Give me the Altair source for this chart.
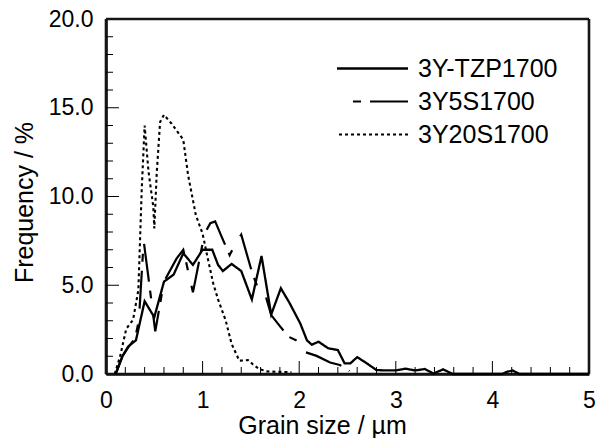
import altair as alt
import pandas as pd

# Grain size distributions (grain size in µm, frequency in %)
tzp_x = [0.10, 0.17, 0.23, 0.31, 0.40, 0.50, 0.60, 0.70, 0.80, 0.90, 1.00, 1.10,
         1.16, 1.21, 1.30, 1.40, 1.51, 1.61, 1.71, 1.81, 1.90, 2.01, 2.08, 2.13,
         2.20, 2.30, 2.40, 2.47, 2.53, 2.60, 2.70, 2.80, 2.90, 3.00, 3.10, 3.20,
         3.30, 3.39, 3.49, 3.59, 3.70, 3.80, 3.90, 4.00, 4.10, 4.15, 4.21, 4.28,
         4.40, 4.60, 4.80, 5.00]
tzp_y = [0.0, 1.0, 1.55, 1.9, 4.1, 3.2, 5.2, 5.6, 6.8, 6.15, 7.0, 7.0,
         6.15, 5.8, 6.2, 5.8, 4.2, 6.65, 3.35, 4.83, 4.0, 2.86, 1.9, 1.65,
         1.82, 1.45, 1.35, 0.6, 0.6, 0.95, 0.6, 0.22, 0.2, 0.2, 0.3, 0.2,
         0.28, 0.03, 0.26, 0.0, 0.0, 0.0, 0.0, 0.0, 0.0, 0.12, 0.2, 0.0,
         0.0, 0.0, 0.0, 0.0]

s5_x = [0.10, 0.17, 0.23, 0.30, 0.34, 0.39, 0.44, 0.51, 0.60, 0.73, 0.80, 0.90,
        1.02, 1.08, 1.13, 1.20, 1.28, 1.35, 1.40, 1.51, 1.58, 1.65, 1.71, 1.80,
        1.89, 2.03, 2.07, 2.18, 2.32, 2.42, 2.52]
s5_y = [0.0, 1.0, 1.5, 2.0, 3.0, 7.5, 5.4, 2.4, 5.2, 6.5, 7.0, 4.6,
        7.9, 8.5, 8.6, 7.7, 6.7, 7.45, 7.85, 5.76, 4.73, 4.45, 3.32, 2.7,
        2.1, 1.73, 1.22, 1.02, 0.65, 0.51, 0.17]

s20_x = [0.09, 0.145, 0.21, 0.28, 0.335, 0.37, 0.40, 0.44, 0.49, 0.50, 0.525,
         0.56, 0.60, 0.68, 0.80, 0.85, 0.93, 1.00, 1.05, 1.11, 1.16, 1.24, 1.30,
         1.38, 1.47, 1.52, 1.58, 1.66, 1.80, 1.92]
s20_y = [0.0, 0.97, 2.55, 3.05, 4.73, 10.4, 14.0, 11.4, 9.4, 8.2, 11.3,
         14.2, 14.6, 14.1, 13.2, 11.2, 8.95, 7.9, 6.6, 5.1, 4.2, 3.0, 1.7,
         0.75, 0.78, 0.55, 0.3, 0.15, 0.12, 0.1]

series = ["3Y-TZP1700", "3Y5S1700", "3Y20S1700"]

# Axis ticks (drawn inward)
x_minor = [0.2, 0.4, 0.6, 0.8, 1.2, 1.4, 1.6, 1.8, 2.2, 2.4, 2.6, 2.8,
           3.2, 3.4, 3.6, 3.8, 4.2, 4.4, 4.6, 4.8]
x_major = [1, 2, 3, 4]
y_minor = [1, 2, 3, 4, 6, 7, 8, 9, 11, 12, 13, 14, 16, 17, 18, 19]
y_major = [5, 10, 15]
x_labels = [0, 1, 2, 3, 4, 5]
y_labels = [0, 5, 10, 15, 20]

# Frame edges in data units
x_edges = [0, 5]
y_edges = [0, 20]

W, H = 483, 355
FONT = "Liberation Sans"
INK = "#151515"

frames = []
for name, xs, ys in [(series[0], tzp_x, tzp_y), (series[1], s5_x, s5_y), (series[2], s20_x, s20_y)]:
    frames.append(pd.DataFrame({"size": xs, "freq": ys, "series": name, "order": range(len(xs))}))
df = pd.concat(frames, ignore_index=True)

xscale = alt.Scale(domain=[0, 5], nice=False, zero=False)
yscale = alt.Scale(domain=[0, 20], nice=False, zero=False)

legend_kw = dict(
    title=None, orient="none", legendX=254, legendY=37,
    symbolType="M7.1,0H-7.1", symbolSize=100,
    symbolStrokeColor="black", symbolFillColor="transparent",
    labelFontSize=25, labelFont=FONT, labelColor="black",
    labelOffset=33, rowPadding=7,
)

lines = alt.Chart(df).mark_line(color="black").encode(
    x=alt.X("size:Q", scale=xscale,
            axis=alt.Axis(values=x_labels, format="d", ticks=False, grid=False,
                          domain=True, domainColor=INK, domainWidth=2.6,
                          labelFlush=False,
                          labelFontSize=23, labelFont=FONT, labelColor="black", labelPadding=15,
                          title="Grain size / µm", titleFontSize=25, titleFont=FONT,
                          titleFontWeight="normal", titleColor="black",
                          titleX=216, titleY=59, titleBaseline="alphabetic")),
    y=alt.Y("freq:Q", scale=yscale,
            axis=alt.Axis(values=y_labels, format=".1f", ticks=False, grid=False,
                          domain=True, domainColor=INK, domainWidth=2.6,
                          labelFlush=False,
                          labelFontSize=23, labelFont=FONT, labelColor="black", labelPadding=13,
                          title="Frequency / %", titleFontSize=25, titleFont=FONT,
                          titleFontWeight="normal", titleColor="black",
                          titleX=-74, titleY=183, titleBaseline="alphabetic")),
    order="order:Q",
    strokeDash=alt.StrokeDash("series:N",
                              scale=alt.Scale(domain=series, range=[[1, 0], [38, 9, 8, 16], [3, 3]]),
                              legend=alt.Legend(**legend_kw)),
    strokeWidth=alt.StrokeWidth("series:N",
                                scale=alt.Scale(domain=series, range=[2.3, 2.1, 1.6]),
                                legend=alt.Legend(**legend_kw)),
)

xmin = alt.Chart(pd.DataFrame({"v": x_minor})).mark_rule(color="black", strokeWidth=1).encode(
    x=alt.X("v:Q", scale=xscale), y=alt.value(H), y2=alt.value(H - 7))
xmaj = alt.Chart(pd.DataFrame({"v": x_major})).mark_rule(color="black", strokeWidth=1).encode(
    x=alt.X("v:Q", scale=xscale), y=alt.value(H), y2=alt.value(H - 13))
ymin = alt.Chart(pd.DataFrame({"v": y_minor})).mark_rule(color="black", strokeWidth=1).encode(
    y=alt.Y("v:Q", scale=yscale), x=alt.value(0), x2=alt.value(7))
ymaj = alt.Chart(pd.DataFrame({"v": y_major})).mark_rule(color="black", strokeWidth=1).encode(
    y=alt.Y("v:Q", scale=yscale), x=alt.value(0), x2=alt.value(13))

# Plot frame: vertical and horizontal edges through the scales
vedges = alt.Chart(pd.DataFrame({"v": x_edges})).mark_rule(color=INK, strokeWidth=2.6).encode(
    x=alt.X("v:Q", scale=xscale), y=alt.value(0), y2=alt.value(H))
hedges = alt.Chart(pd.DataFrame({"v": y_edges})).mark_rule(color=INK, strokeWidth=2.6).encode(
    y=alt.Y("v:Q", scale=yscale), x=alt.value(0), x2=alt.value(W))

chart = alt.layer(vedges, hedges, xmin, xmaj, ymin, ymaj, lines).properties(
    width=W, height=H,
    autosize=alt.AutoSizeParams(type="none"),
    padding={"left": 106, "top": 19, "right": 14, "bottom": 64},
).configure_view(
    stroke=None
).configure(background="white")

chart.save("out.html", embed_options={"renderer": "svg", "actions": False})
